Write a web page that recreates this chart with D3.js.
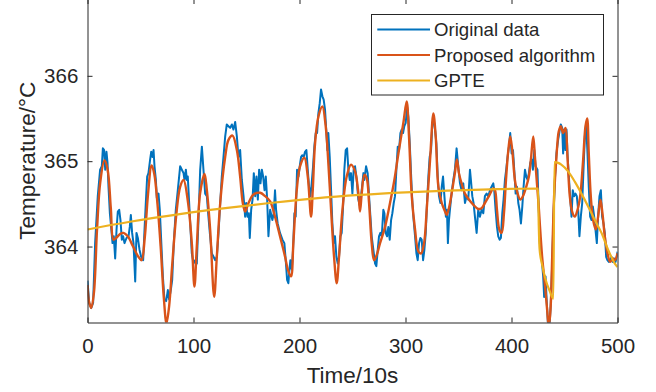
<!DOCTYPE html>
<html>
<head>
<meta charset="utf-8">
<script src="https://cdn.jsdelivr.net/npm/d3@7"></script>
<style>
  html, body { margin: 0; padding: 0; background: #fff; }
  svg { display: block; }
  text { font-family: "Liberation Sans", Arial, Helvetica, sans-serif; fill: #262626; }
</style>
</head>
<body>
<svg id="chart" width="656" height="392"></svg>
<script>
// ---------------- DATA ----------------
const xTicks = [0, 100, 200, 300, 400, 500];
const yTicks = [364, 365, 366];
const xLabel = "Time/10s";
const yLabel = "Temperature/°C";
const seriesNames = ["Original data", "Proposed algorithm", "GPTE"];

// Original data [time, temperature]
const originalData = [
[0,363.60],[1.6,363.34],[3.5,363.28],[5.3,363.34],[7.2,364.04],[9.7,364.59],[11.9,364.90],[13.5,364.94],[14.5,365.15],[15.7,365.13],[16.7,364.90],[17.9,365.11],[18.9,364.98],[19.8,364.70],[21.1,364.39],[22.3,364.23],[23.6,364.04],[24.8,364.12],[26.1,363.86],[27.4,364.20],[28.6,364.41],[29.9,364.43],[31.1,364.31],[32.4,364.08],[33.6,364.12],[34.9,364.04],[36.8,364.10],[38.7,364.12],[39.9,364.23],[40.9,364.37],[42.1,364.16],[43.4,364.04],[45.0,363.59],[46.2,364.16],[47.5,364.10],[49.1,363.96],[50.6,363.88],[52.5,363.84],[53.8,364.20],[55.0,364.51],[56.3,364.82],[57.5,364.86],[59.1,365.02],[60.1,365.11],[61.3,365.05],[62.3,365.13],[63.2,364.94],[64.5,364.78],[65.4,364.57],[67.0,364.62],[68.2,364.43],[69.5,364.08],[71.1,363.65],[72.6,363.38],[74.2,363.36],[75.8,363.49],[77.0,363.38],[78.6,363.49],[79.9,363.61],[81.4,364.04],[83.3,364.43],[85.2,364.66],
[87.4,364.94],[89.0,364.90],[90.6,364.86],[91.5,364.78],[92.8,364.90],[93.7,364.78],[94.6,364.82],[95.9,364.51],[96.9,364.27],[98.4,363.92],[100.0,363.80],[101.6,363.84],[103.1,363.80],[104.7,364.31],[106.3,364.90],[107.9,365.17],[109.4,364.90],[111.0,364.62],[112.6,364.59],[114.1,364.35],[115.7,364.12],[117.3,363.92],[118.9,363.88],[120.4,363.84],[122.0,363.88],[123.6,364.16],[125.2,364.51],[126.7,364.82],[128.3,365.05],[129.9,365.29],[131.4,365.43],[133.0,365.41],[134.6,365.39],[136.2,365.43],[137.7,365.37],[139.3,365.46],[140.9,365.29],[142.4,365.05],[144.0,365.13],[145.6,364.78],[147.2,364.59],[148.7,364.35],[149.7,364.51],[150.9,364.35],[152.2,364.39],[153.1,364.10],[154.4,364.43],[155.7,364.55],[156.9,364.86],[158.2,364.59],[159.4,364.82],[160.7,364.55],[161.9,364.90],[163.2,364.74],[164.5,364.90],[165.7,364.82],[167.0,364.66],[168.2,364.82],[169.5,364.55],[170.7,364.12],[172.3,364.43],
[174.4,364.31],[175.7,364.39],[176.9,364.66],[177.9,364.43],[179.4,364.27],[181.6,364.16],[183.9,364.08],[185.7,364.04],[187.0,363.84],[188.3,363.61],[189.5,363.57],[190.5,363.73],[191.4,363.84],[192.7,363.73],[193.9,363.96],[195.2,364.39],[196.4,364.35],[197.7,364.90],[199.0,364.82],[200.2,364.94],[201.5,365.05],[202.7,365.07],[204.0,365.05],[205.2,365.11],[206.5,365.13],[207.8,364.90],[209.0,364.70],[210.3,364.59],[211.5,364.74],[212.8,364.94],[214.0,365.17],[215.3,365.33],[216.6,365.33],[217.8,365.56],[219.1,365.68],[220.3,365.84],[221.6,365.76],[222.8,365.72],[224.1,365.60],[225.4,365.33],[226.3,365.13],[227.2,365.33],[228.5,365.05],[229.8,364.66],[231.0,364.27],[232.3,364.04],[233.5,364.12],[234.8,363.88],[236.1,363.80],[237.3,363.88],[238.6,364.12],[239.8,364.16],[241.1,364.47],[242.3,364.90],[243.6,365.13],[244.9,365.15],[246.1,364.90],[247.4,364.78],[248.6,364.86],[249.9,364.62],[251.1,364.90],[252.4,364.94],
[254.0,364.78],[255.5,364.55],[257.1,364.47],[258.7,364.66],[260.3,364.86],[261.2,364.78],[262.8,364.94],[264.3,364.86],[265.6,364.59],[266.9,364.35],[268.1,364.12],[269.7,363.96],[271.3,363.80],[272.5,363.77],[273.8,363.96],[275.0,364.12],[276.3,364.16],[277.6,364.12],[279.1,364.43],[280.1,364.39],[281.3,364.16],[282.6,364.12],[283.8,364.23],[285.1,364.08],[286.4,364.31],[287.6,364.39],[288.9,364.51],[290.1,364.59],[291.4,364.90],[292.7,365.17],[293.9,365.13],[295.2,365.33],[296.4,365.37],[297.7,365.33],[298.9,365.41],[300.2,365.45],[301.5,365.64],[302.7,365.52],[304.0,365.21],[305.2,364.86],[306.5,364.51],[307.7,364.31],[309.0,364.12],[310.3,363.92],[311.5,363.84],[312.8,364.04],[314.0,364.10],[315.3,364.08],[316.6,363.84],[317.8,363.96],[319.1,364.16],[320.3,364.51],[321.6,364.82],[322.8,365.05],[324.1,365.13],[325.4,365.45],[326.6,365.48],[327.9,365.37],[329.1,365.21],[330.4,364.82],[331.6,364.59],[332.9,364.51],[334.2,364.70],[335.4,364.82],[336.7,364.59],
[338.1,364.35],[339.1,364.43],[340.0,364.04],[341.0,364.31],[341.9,364.43],[343.5,364.62],[345.1,364.78],[346.6,364.90],[348.2,365.15],[349.8,364.94],[351.4,364.74],[352.9,364.66],[354.5,364.74],[356.1,364.51],[357.6,364.59],[359.2,364.55],[360.8,364.90],[361.7,364.78],[363.0,364.59],[364.2,364.51],[365.5,364.35],[367.1,364.16],[368.6,364.43],[370.2,364.35],[371.8,364.43],[373.4,364.39],[374.9,364.59],[376.5,364.62],[378.1,364.59],[379.7,364.66],[381.2,364.70],[382.8,364.74],[383.7,364.66],[385.0,364.43],[386.3,364.23],[387.5,364.12],[388.8,364.08],[390.0,364.10],[391.3,364.39],[392.5,364.55],[393.8,364.78],[395.0,364.90],[396.3,365.05],[397.6,365.17],[398.8,365.33],[400.1,365.09],[401.4,365.13],[402.6,364.90],[403.9,364.62],[405.1,364.70],[406.4,364.51],[407.6,364.43],[408.9,364.27],[410.2,364.47],[411.4,364.70],[412.7,364.90],[413.9,364.82],[415.2,364.78],[416.4,364.86],[417.7,364.98],[419.0,365.02],[420.2,364.90],[421.5,365.13],[422.7,364.94],[424.5,364.90],
[425.8,364.39],[426.7,364.04],[428.3,363.88],[429.9,363.65],[430.8,363.41],[432.1,363.65],[433.3,363.34],[434.6,363.05],[435.8,363.05],[437.1,363.34],[438.4,363.80],[439.6,364.35],[440.9,364.78],[442.4,365.09],[444.0,365.25],[445.6,365.37],[446.5,365.43],[447.8,365.39],[448.7,365.09],[449.7,365.37],[450.9,365.13],[451.9,365.37],[452.8,365.09],[454.1,364.82],[455.3,364.59],[456.6,364.35],[457.8,364.66],[459.1,364.59],[460.4,364.62],[461.6,364.59],[462.9,364.43],[464.1,364.12],[465.4,364.35],[466.7,364.51],[467.9,364.90],[469.2,365.29],[470.4,365.43],[471.7,365.09],[472.9,364.70],[474.2,364.35],[475.5,364.31],[476.7,364.47],[478.0,364.35],[479.2,364.20],[480.5,364.04],[481.7,364.35],[483.0,364.59],[484.3,364.66],[485.5,364.35],[486.8,364.27],[488.0,364.16],[489.3,363.88],[490.5,363.84],[491.8,363.82],[493.1,363.84],[494.3,363.88],[495.6,363.82],[496.8,363.86],[498.1,363.82],[499.4,363.88],[500,363.94]
];

// Proposed algorithm [time, temperature]
const proposedData = [
[0,363.55],[1.5,363.35],[3.5,363.28],[6,363.45],[9,364.2],[12,364.75],[16,365.01],[19,364.9],[22,364.45],[24.5,364.08],[27,364.1],[31,364.15],[34,364.16],[38,364.12],[43,364.0],[48,363.88],[51,363.84],[54,364.1],[57,364.6],[60.5,364.95],[63,364.85],[66,364.5],[69,364.0],[72,363.4],[74.5,363.1],[77,363.3],[80,363.8],[84,364.4],
[87.4,364.7],[90.6,364.78],[94.9,364.51],[98.4,364.04],[100.9,363.53],[103.1,364.0],[106.3,364.63],[110.4,364.85],[112.6,364.66],[115.7,364.2],[119.5,363.41],[122,363.88],[125.2,364.51],[129.9,365.05],[133,365.25],[136.8,365.30],[140.9,365.13],[144,364.82],[146.5,364.51],[148.7,364.41],[151.9,364.51],[156.6,364.61],[162.9,364.63],[167.6,364.59],
[172.3,364.53],[176.9,364.35],[181.6,364.12],[186.4,363.88],[189,363.73],[192,363.65],[194.2,364.04],[197.4,364.66],[200.5,364.94],[204.6,365.04],[207.8,364.82],[210.9,364.35],[212.5,364.66],[214.7,365.21],[217.8,365.52],[221.6,365.64],[224.7,365.41],[227.2,364.98],[229.8,364.43],[232.6,363.88],[235.1,363.57],[237.3,363.88],[240.5,364.43],[244.5,364.82],[248.6,364.96],[252.4,364.88],
[255.6,364.62],[257.1,364.41],[258.7,364.62],[261.2,364.84],[263.4,364.80],[265.6,364.51],[268.1,364.04],[270.3,363.84],[272.8,363.90],[276,364.04],[280.7,364.23],[285.4,364.51],[289.5,364.78],[293.3,365.09],[298,365.45],[301.1,365.70],[303.3,365.29],[305.9,364.59],[309,364.20],[312.2,363.94],[314.7,363.92],[317.5,364.04],[320,364.43],[323.2,365.02],[326.3,365.56],[328.5,365.29],[331,364.70],[334.2,364.51],[337.3,364.41],
[338.8,364.37],[341,364.45],[343.5,364.62],[346.6,364.86],[348.5,365.02],[350.4,364.86],[352.9,364.74],[356.1,364.62],[359.8,364.55],[363.9,364.49],[368.6,364.44],[371.8,364.45],[374.9,364.51],[378.7,364.59],[382.8,364.68],[384.4,364.66],[386.3,364.43],[388.5,364.20],[390.7,364.16],[392.9,364.39],[394.8,364.78],[397,365.13],[398.8,365.29],[400.7,365.13],[403.2,364.78],[405.8,364.62],[408.3,364.55],[410.8,364.59],[413.9,364.70],[416.4,364.82],[418.3,365.02],[420.5,365.29],[422.1,365.05],[424,364.74],[425.9,364.43],
[426.7,364.27],[428.9,363.88],[431.4,363.57],[433.6,363.26],[435.2,363.05],[436.8,363.26],[438.4,363.88],[440.2,364.59],[442.4,365.05],[444.6,365.35],[446.5,365.41],[448.7,365.33],[450.9,365.39],[452.8,365.05],[455,364.59],[457.2,364.41],[459.7,364.35],[462.3,364.43],[464.8,364.59],[467.6,365.02],[469.8,365.41],[471.4,365.50],[472.9,365.09],[474.8,364.59],[477,364.31],[479.5,364.20],[481.7,364.35],[483.9,364.55],[485.8,364.39],[488,364.12],[490.6,363.92],[493.1,363.82],[495.6,363.86],[497.5,363.84],[500,363.92]
];

// GPTE [time, temperature]
const gpteData = [
[0,364.20],[40,364.29],[87,364.38],[130,364.45],[172,364.51],[215,364.565],[257,364.605],[300,364.635],[340,364.655],[380,364.67],[425,364.68],
[425.7,364.25],[426.5,363.97],[429,363.78],[432,363.62],[436,363.48],[439.5,363.39],
[440.5,364.99],[444,364.98],[447,364.96],[453.4,364.88],[459.7,364.76],[466,364.62],[472.3,364.47],[478.6,364.31],[484.9,364.16],[491.2,363.96],[497.5,363.80],[500,363.76]
];

const colors = ["#0072BD", "#D95319", "#EDB120"];

// ---------------- CHART ----------------
const svg = d3.select("#chart");
const L = 87.5, R = 617.5, T = -1, B = 322.5;
const axisColor = "#262626";

const x = d3.scaleLinear().domain([0, 500]).range([L, R]);
const y = d3.scaleLinear().domain([363.11, 366.9]).range([B, T]);

svg.append("defs").append("clipPath").attr("id", "clip")
  .append("rect").attr("x", L).attr("y", T).attr("width", R - L).attr("height", B - T);

const plot = svg.append("g").attr("clip-path", "url(#clip)");

const lineLin = d3.line().x(d => x(d[0])).y(d => y(d[1]));
const lineSmooth = d3.line().x(d => x(d[0])).y(d => y(d[1])).curve(d3.curveCatmullRom.alpha(0.5));
const lineMono = d3.line().x(d => x(d[0])).y(d => y(d[1])).curve(d3.curveMonotoneX);

plot.append("path").datum(originalData).attr("d", lineLin)
  .attr("fill", "none").attr("stroke", colors[0]).attr("stroke-width", 2).attr("stroke-linejoin", "round");
plot.append("path").datum(proposedData).attr("d", lineSmooth)
  .attr("fill", "none").attr("stroke", colors[1]).attr("stroke-width", 2.4).attr("stroke-linejoin", "round");
plot.append("path").datum(gpteData).attr("d", lineMono)
  .attr("fill", "none").attr("stroke", colors[2]).attr("stroke-width", 2.2).attr("stroke-linejoin", "round");

// Axes
const tickFont = 20.5;
const gx = svg.append("g").attr("transform", `translate(0,${B})`)
  .call(d3.axisBottom(x).tickValues(xTicks).tickSizeInner(-5).tickSizeOuter(0).tickPadding(16.2).tickFormat(d3.format("d")));
const gxTop = svg.append("g").attr("transform", `translate(0,${T})`)
  .call(d3.axisTop(x).tickValues(xTicks).tickSizeInner(-5).tickSizeOuter(0).tickFormat(""));
const gy = svg.append("g").attr("transform", `translate(${L},0)`)
  .call(d3.axisLeft(y).tickValues(yTicks).tickSizeInner(-5).tickSizeOuter(0).tickPadding(9.2).tickFormat(d3.format("d")));
const gyR = svg.append("g").attr("transform", `translate(${R},0)`)
  .call(d3.axisRight(y).tickValues(yTicks).tickSizeInner(-5).tickSizeOuter(0).tickFormat(""));

[gx, gxTop, gy, gyR].forEach(g => {
  g.select(".domain").attr("stroke", axisColor).attr("stroke-width", 1);
  g.selectAll(".tick line").attr("stroke", axisColor).attr("stroke-width", 1);
  g.selectAll(".tick text").attr("fill", axisColor)
    .style("font-family", '"Liberation Sans", Arial, sans-serif').style("font-size", tickFont + "px");
});

// Axis labels
svg.append("text").attr("x", (L + R) / 2).attr("y", 383)
  .attr("text-anchor", "middle").style("font-size", "22.5px").text(xLabel);
svg.append("text").attr("transform", `translate(34.5,${(T + B) / 2}) rotate(-90)`)
  .attr("text-anchor", "middle").style("font-size", "22.5px").text(yLabel);

// Legend
const lg = svg.append("g");
lg.append("rect").attr("x", 371.5).attr("y", 14.5).attr("width", 232).attr("height", 80.5)
  .attr("fill", "#fff").attr("stroke", axisColor).attr("stroke-width", 1);
const rowY = [29.5, 55, 80.5];
seriesNames.forEach((name, i) => {
  lg.append("line").attr("x1", 377.3).attr("x2", 430).attr("y1", rowY[i]).attr("y2", rowY[i])
    .attr("stroke", colors[i]).attr("stroke-width", 2.2);
  lg.append("text").attr("x", 434).attr("y", rowY[i]).attr("dy", "0.35em")
    .style("font-size", "18.6px").text(name);
});
</script>
</body>
</html>
